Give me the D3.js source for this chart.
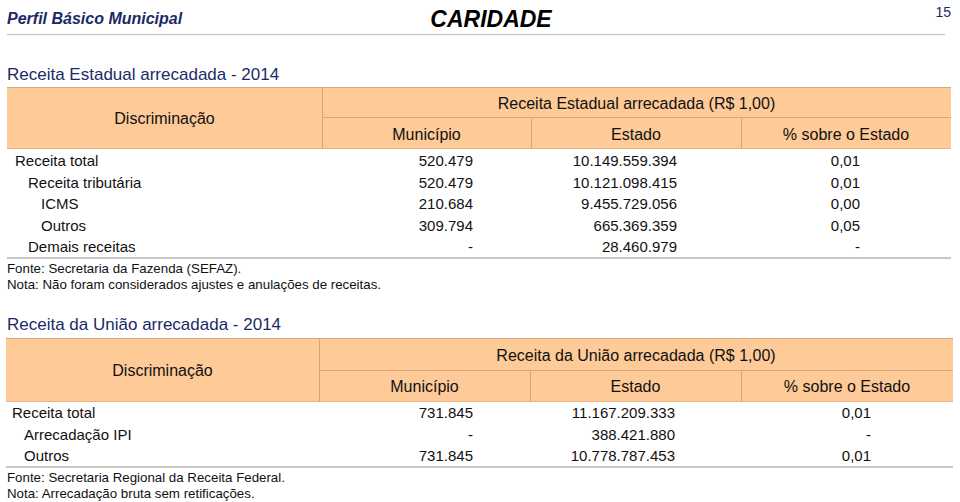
<!DOCTYPE html>
<html>
<head>
<meta charset="utf-8">
<script src="https://cdn.jsdelivr.net/npm/d3@7/dist/d3.min.js"></script>
<style>
  html, body { margin: 0; padding: 0; background: #fff; }
  svg { display: block; font-family: Arial, "Liberation Sans", sans-serif; }
</style>
</head>
<body>
<svg id="chart" width="960" height="502"></svg>
<script>
// ---------- Data ----------
const pageTitle = "Perfil Básico Municipal";
const cityName = "CARIDADE";
const pageNumber = "15";

const columnLabels = ["Município", "Estado", "% sobre o Estado"];

// Table 1: Receita Estadual
const t1Title = "Receita Estadual arrecadada - 2014";
const t1Group = "Receita Estadual arrecadada (R$ 1,00)";
const t1Rows = ["Receita total", "Receita tributária", "ICMS", "Outros", "Demais receitas"];
const t1Levels = [0, 1, 2, 2, 1];
const t1Municipio = [520479, 520479, 210684, 309794, null];
const t1Estado = [10149559394, 10121098415, 9455729056, 665369359, 28460979];
const t1Percent = [0.01, 0.01, 0.00, 0.05, null];
const t1Notes = ["Fonte: Secretaria da Fazenda (SEFAZ).", "Nota: Não foram considerados ajustes e anulações de receitas."];

// Table 2: Receita da União
const t2Title = "Receita da União arrecadada - 2014";
const t2Group = "Receita da União arrecadada (R$ 1,00)";
const t2Rows = ["Receita total", "Arrecadação IPI", "Outros"];
const t2Levels = [0, 1, 1];
const t2Municipio = [731845, null, 731845];
const t2Estado = [11167209333, 388421880, 10778787453];
const t2Percent = [0.01, null, 0.01];
const t2Notes = ["Fonte: Secretaria Regional da Receita Federal.", "Nota: Arrecadação bruta sem retificações."];

// ---------- Formatting ----------
const br = d3.formatLocale({ decimal: ",", thousands: ".", grouping: [3], currency: ["R$ ", ""] });
const fInt = br.format(",d");
const fPct = br.format(",.2f");
const fmtInt = v => v == null ? "-" : fInt(v);
const fmtPct = v => v == null ? "-" : fPct(v);

const svg = d3.select("#chart");
const fill = "#fdca98";
const edge = "#d9a777";
const textColor = "#111";
const navy = "#1b2a66";

// ---------- Page header ----------
svg.append("text").attr("x", 7).attr("y", 24)
  .attr("font-size", 16).attr("font-weight", "bold").attr("font-style", "italic")
  .attr("fill", navy).text(pageTitle);
svg.append("text").attr("x", 491).attr("y", 27).attr("text-anchor", "middle")
  .attr("font-size", 23).attr("font-weight", "bold").attr("font-style", "italic")
  .attr("fill", "#000").text(cityName);
svg.append("text").attr("x", 951).attr("y", 17).attr("text-anchor", "end")
  .attr("font-size", 14).attr("fill", navy).text(pageNumber);
svg.append("line").attr("x1", 7).attr("x2", 945).attr("y1", 34.5).attr("y2", 34.5)
  .attr("stroke", "#c9c9c9").attr("stroke-width", 1.5);

// ---------- Table builder ----------
function drawTable(cfg, lay) {
  const g = svg.append("g");
  const x = d3.scaleOrdinal().domain(["left", "disc", "mun", "est", "right"])
    .range([lay.xLeft, lay.xDisc, lay.xMun, lay.xEst, lay.xRight]);
  const colStarts = [x("disc"), x("mun"), x("est")];
  const colEnds = [x("mun"), x("est"), x("right")];

  // title
  g.append("text").attr("x", 7).attr("y", lay.titleY)
    .attr("font-size", 17).attr("fill", navy).text(cfg.title);

  // header
  g.append("rect").attr("x", x("left")).attr("y", lay.hTop)
    .attr("width", x("right") - x("left")).attr("height", lay.hBot - lay.hTop)
    .attr("fill", fill);
  g.append("line").attr("x1", x("left")).attr("x2", x("right"))
    .attr("y1", lay.hTop + 0.5).attr("y2", lay.hTop + 0.5).attr("stroke", edge);
  g.append("line").attr("x1", x("left")).attr("x2", x("right"))
    .attr("y1", lay.hBot - 0.5).attr("y2", lay.hBot - 0.5).attr("stroke", edge).attr("stroke-opacity", 0.6);
  g.append("line").attr("x1", x("disc") + 0.5).attr("x2", x("disc") + 0.5)
    .attr("y1", lay.hTop).attr("y2", lay.hBot).attr("stroke", edge);
  g.append("line").attr("x1", x("disc")).attr("x2", x("right"))
    .attr("y1", lay.hMid + 0.5).attr("y2", lay.hMid + 0.5).attr("stroke", edge);
  [x("mun"), x("est")].forEach(xx => {
    g.append("line").attr("x1", xx + 0.5).attr("x2", xx + 0.5)
      .attr("y1", lay.hMid).attr("y2", lay.hBot).attr("stroke", edge);
  });

  g.append("text").attr("x", (x("left") + x("disc")) / 2).attr("y", lay.discY)
    .attr("text-anchor", "middle").attr("font-size", 16).attr("fill", textColor)
    .text("Discriminação");
  g.append("text").attr("x", (x("disc") + x("right")) / 2).attr("y", lay.groupY)
    .attr("text-anchor", "middle").attr("font-size", 16).attr("fill", textColor)
    .text(cfg.group);
  g.selectAll("text.col").data(columnLabels).join("text")
    .attr("class", "col")
    .attr("x", (d, i) => (colStarts[i] + colEnds[i]) / 2)
    .attr("y", lay.colY)
    .attr("text-anchor", "middle").attr("font-size", 16).attr("fill", textColor)
    .text(d => d);

  // rows
  const y = d3.scalePoint().domain(d3.range(cfg.rows.length))
    .range([lay.firstRowY, lay.lastRowY]);
  const rows = cfg.rows.map((name, i) => ({
    name, level: cfg.levels[i],
    mun: fmtInt(cfg.municipio[i]), est: fmtInt(cfg.estado[i]), pct: fmtPct(cfg.percent[i])
  }));
  const rg = g.selectAll("g.row").data(rows).join("g").attr("class", "row")
    .attr("transform", (d, i) => `translate(0,${y(i)})`)
    .attr("font-size", 15).attr("fill", textColor);
  rg.append("text").attr("x", d => lay.indent[d.level]).text(d => d.name);
  rg.append("text").attr("x", lay.munRight).attr("text-anchor", "end").text(d => d.mun);
  rg.append("text").attr("x", lay.estRight).attr("text-anchor", "end").text(d => d.est);
  rg.append("text").attr("x", lay.pctRight).attr("text-anchor", "end").text(d => d.pct);

  // bottom rule
  g.append("line").attr("x1", x("left")).attr("x2", x("right"))
    .attr("y1", lay.ruleY).attr("y2", lay.ruleY)
    .attr("stroke", "#c8c8c8").attr("stroke-width", 2);

  // notes
  g.selectAll("text.note").data(cfg.notes).join("text").attr("class", "note")
    .attr("x", 7).attr("y", (d, i) => lay.noteY + i * lay.noteGap)
    .attr("font-size", 13.3).attr("fill", textColor).text(d => d);
}

drawTable(
  { title: t1Title, group: t1Group, rows: t1Rows, levels: t1Levels,
    municipio: t1Municipio, estado: t1Estado, percent: t1Percent, notes: t1Notes },
  { xLeft: 7, xDisc: 322, xMun: 531, xEst: 741, xRight: 951,
    titleY: 80, hTop: 87, hMid: 117, hBot: 149,
    discY: 124, groupY: 109, colY: 140,
    firstRowY: 166, lastRowY: 252,
    indent: [15, 28, 41],
    munRight: 473, estRight: 677, pctRight: 860,
    ruleY: 258, noteY: 273, noteGap: 16 }
);

drawTable(
  { title: t2Title, group: t2Group, rows: t2Rows, levels: t2Levels,
    municipio: t2Municipio, estado: t2Estado, percent: t2Percent, notes: t2Notes },
  { xLeft: 6, xDisc: 319, xMun: 530, xEst: 741, xRight: 953,
    titleY: 330, hTop: 338, hMid: 370, hBot: 402,
    discY: 376, groupY: 361, colY: 392,
    firstRowY: 418, lastRowY: 461,
    indent: [12, 24, 24],
    munRight: 473, estRight: 675, pctRight: 871,
    ruleY: 467, noteY: 482, noteGap: 16 }
);
</script>
</body>
</html>
